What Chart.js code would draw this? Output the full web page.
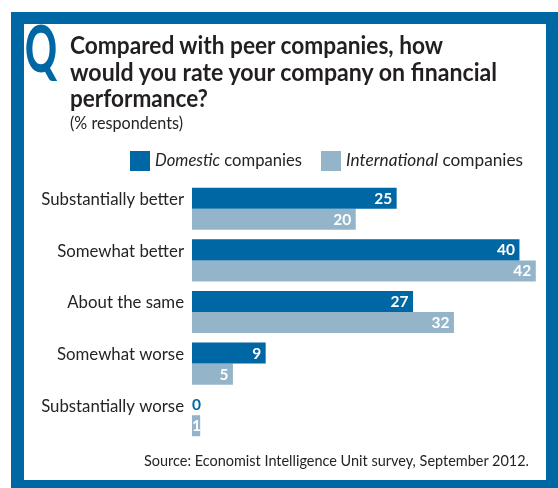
<!DOCTYPE html>
<html><head><meta charset="utf-8">
<script src="https://cdn.jsdelivr.net/npm/chart.js@4/dist/chart.umd.min.js"></script>
<style>
html,body{margin:0;padding:0;background:#fff;}
body{width:558px;height:488px;position:relative;overflow:hidden;font-family:Lato,"Open Sans",sans-serif;color:#262324;}
#outer{position:absolute;left:11px;top:12px;width:560px;height:490px;background:#0067a5;z-index:0;}
#inner{position:absolute;left:24px;top:24px;width:522px;height:456px;background:#fff;z-index:0;}
#c{position:absolute;left:0;top:0;z-index:1;}
.t{position:absolute;white-space:nowrap;line-height:1;z-index:2;transform-origin:0 0;}
.sq{position:absolute;width:20px;height:20px;z-index:2;}
</style></head>
<body>
<div id="outer"></div><div id="inner"></div>
<canvas id="c" width="558" height="488"></canvas>
<div class="t" id="q" data-fs="64" data-b="73" data-x="25" data-w="32" style="font-weight:900;color:#0067a5;">Q</div>
<div class="t" data-fs="25.5" data-b="55" data-x="70" data-w="373" style="font-weight:700;color:#231f20;">Compared with peer companies, how</div>
<div class="t" data-fs="25.5" data-b="82" data-x="70" data-w="427" style="font-weight:700;color:#231f20;">would you rate your company on financial</div>
<div class="t" data-fs="25.5" data-b="108" data-x="70" data-w="138" style="font-weight:700;color:#231f20;">performance?</div>
<div class="t" data-fs="16.5" data-b="130" data-x="70" data-w="113">(% respondents)</div>
<div class="sq" style="left:130px;top:151px;background:#0067a5"></div>
<div class="t" data-fs="16.5" data-b="166.5" data-x="155" data-w="147"><i>Domestic</i> companies</div>
<div class="sq" style="left:321px;top:151px;background:#94b5c9"></div>
<div class="t" data-fs="16.5" data-b="166.5" data-x="346" data-w="177"><i>International</i> companies</div>
<div class="t" data-fs="15.5" data-b="467" data-x="144" data-w="385">Source: Economist Intelligence Unit survey, September 2012.</div>
<script>
// ---- data ----
const categories = ["Substantially better", "Somewhat better", "About the same", "Somewhat worse", "Substantially worse"];
const domestic = [25, 40, 27, 9, 0];
const international = [20, 42, 32, 5, 1];
const seriesNames = ["Domestic companies", "International companies"];

// ---- text placement ----
document.querySelectorAll('.t').forEach(el => {
  const fs = parseFloat(el.dataset.fs);
  el.style.fontSize = fs + 'px';
  el.style.left = el.dataset.x + 'px';
  el.style.top = (parseFloat(el.dataset.b) - 0.887 * fs) + 'px';
});
function fit() {
  document.querySelectorAll('.t').forEach(el => {
    el.style.transform = 'none';
    const w = el.getBoundingClientRect().width;
    const target = parseFloat(el.dataset.w);
    if (w > 0 && target) el.style.transform = 'scaleX(' + (target / w) + ')';
  });
}
fit();
if (document.fonts && document.fonts.ready) document.fonts.ready.then(fit);

const BLUE = '#0067a5', LIGHT = '#94b5c9';
const valueLabels = {
  id: 'valueLabels',
  afterDatasetsDraw(chart) {
    const ctx = chart.ctx;
    ctx.save();
    ctx.font = 'bold 15.5px Lato, "Open Sans", sans-serif';
    ctx.textBaseline = 'middle';
    chart.data.datasets.forEach((ds, i) => {
      const meta = chart.getDatasetMeta(i);
      meta.data.forEach((bar, j) => {
        const v = ds.data[j];
        const txt = String(v);
        const w = ctx.measureText(txt).width;
        const len = bar.x - bar.base;
        if (len >= w + 8) {
          ctx.textAlign = 'right';
          ctx.fillStyle = '#fff';
          ctx.fillText(txt, bar.x - 4.5, bar.y + 0.5);
        } else {
          ctx.textAlign = 'left';
          ctx.fillStyle = v === 0 ? ds.backgroundColor : '#fff';
          ctx.fillText(txt, bar.base, bar.y + 0.5);
        }
      });
    });
    ctx.restore();
  }
};

new Chart(document.getElementById('c'), {
  type: 'bar',
  data: {
    labels: categories,
    datasets: [
      { label: seriesNames[0], data: domestic, backgroundColor: BLUE, borderWidth: 0, categoryPercentage: 0.816, barPercentage: 1 },
      { label: seriesNames[1], data: international, backgroundColor: LIGHT, borderWidth: 0, categoryPercentage: 0.816, barPercentage: 1 }
    ]
  },
  options: {
    indexAxis: 'y',
    responsive: false,
    animation: false,
    devicePixelRatio: 1,
    layout: { padding: { left: 0, right: 14, top: 183, bottom: 47 } },
    plugins: { legend: { display: false }, tooltip: { enabled: false } },
    scales: {
      x: { display: false, min: 0, max: 43 },
      y: {
        grid: { display: false, drawTicks: false },
        border: { display: false },
        ticks: { color: '#262324', font: { family: 'Lato, "Open Sans", sans-serif', size: 16.8 }, padding: 8, labelOffset: -9, autoSkip: false },
        afterFit(s) { s.width = 192; }
      }
    }
  },
  plugins: [valueLabels]
});
</script>
</body></html>
